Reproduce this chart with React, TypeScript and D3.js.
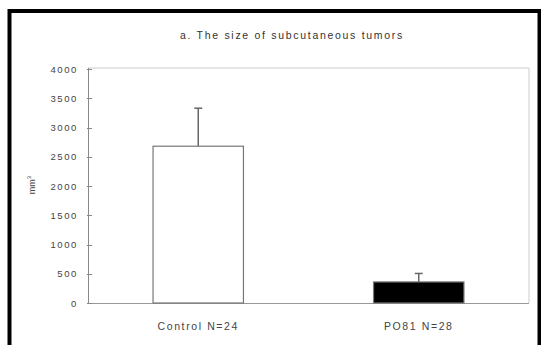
import React from 'react';
import * as d3 from 'd3';

const title = 'a. The size of subcutaneous tumors';
const categories = ['Control N=24', 'PO81 N=28'];
const means = [2680, 360];
const errors = [650, 145];
const barFills = ['#ffffff', '#000000'];
const yTicks = [0, 500, 1000, 1500, 2000, 2500, 3000, 3500, 4000];

const App = () => {
  const W = 541;
  const H = 345;
  const plot = { left: 88, right: 529, top: 69, bottom: 303 };

  const x = d3.scaleBand<string>()
    .domain(categories)
    .range([plot.left, plot.right])
    .paddingInner(0.59)
    .paddingOuter(0.295);

  const y = d3.scaleLinear()
    .domain([0, 4000])
    .range([plot.bottom, plot.top]);

  const font = 'Arial, "Liberation Sans", sans-serif';

  return (
    <svg width={W} height={H} style={{ position: 'absolute', left: 0, top: 0 }}>
      <rect x={0} y={0} width={W} height={H} fill="#fff" />
      {/* outer border */}
      <rect x={9.5} y={11} width={530} height={345} fill="none" stroke="#000" strokeWidth={4} />

      <text x={292} y={39} textAnchor="middle" fontFamily={font} fontSize={10.5}
        letterSpacing={1.7} fill="#333">{title}</text>

      {/* frame */}
      <line x1={plot.left} x2={plot.right} y1={plot.top - 1} y2={plot.top - 1} stroke="#ccc" />
      <line x1={plot.right} x2={plot.right} y1={plot.top - 1} y2={plot.bottom} stroke="#ccc" />
      <line x1={plot.left} x2={plot.right} y1={plot.bottom + 0.5} y2={plot.bottom + 0.5} stroke="#999" />
      <line x1={plot.left + 0.5} x2={plot.left + 0.5} y1={plot.top - 1} y2={plot.bottom} stroke="#888" />

      {yTicks.map((t) => (
        <g key={t}>
          <line x1={plot.left - 1} x2={plot.left + 4} y1={Math.round(y(t)) + 0.5} y2={Math.round(y(t)) + 0.5} stroke="#888" />
          <text x={78} y={y(t) + 3.5} textAnchor="end" fontFamily={font} fontSize={9.5}
            letterSpacing={1.6} fill="#444">{t}</text>
        </g>
      ))}

      <text transform="translate(35,185) rotate(-90)" textAnchor="middle" fontFamily={font}
        fontSize={9} fill="#444">
        mm<tspan dy={-4} fontSize={6}>3</tspan>
      </text>

      {categories.map((c, i) => {
        const bx = x(c) as number;
        const cx = bx + x.bandwidth() / 2;
        const top = y(means[i]);
        const errTop = y(means[i] + errors[i]);
        return (
          <g key={c}>
            <line x1={cx} x2={cx} y1={top} y2={errTop} stroke="#666" strokeWidth={1.5} />
            <line x1={cx - 4} x2={cx + 4} y1={errTop} y2={errTop} stroke="#666" strokeWidth={1.5} />
            <rect x={bx} y={top} width={x.bandwidth()} height={plot.bottom - top}
              fill={barFills[i]} stroke="#777" strokeWidth={1.2} />
            <text x={cx} y={330} textAnchor="middle" fontFamily={font} fontSize={10.5}
              letterSpacing={1.6} fill="#444">{c}</text>
          </g>
        );
      })}
    </svg>
  );
};

export default App;
